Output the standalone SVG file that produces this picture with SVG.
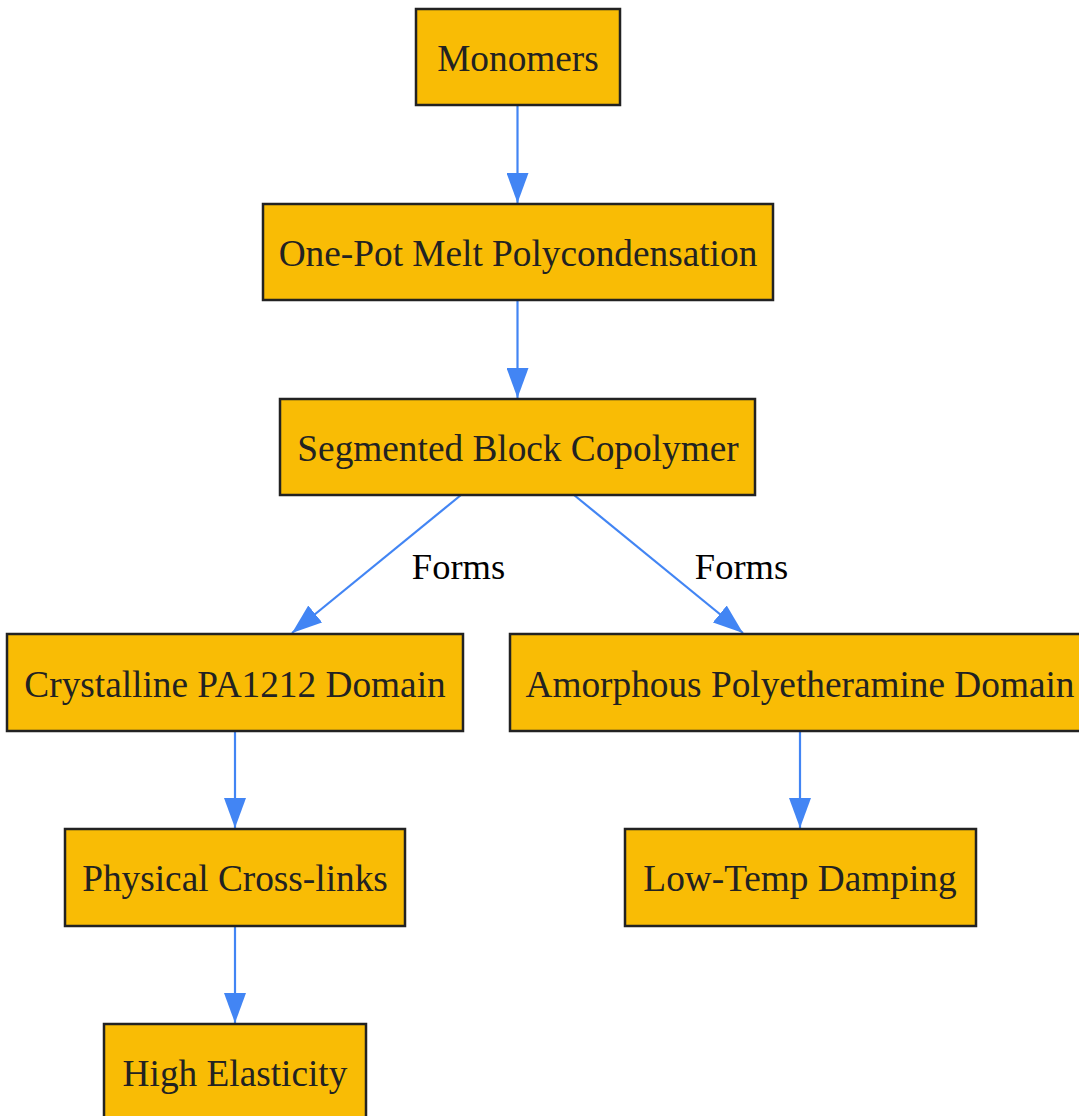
<svg xmlns="http://www.w3.org/2000/svg" width="1079" height="1116" viewBox="0 0 1079 1116">
<style>
.node rect{fill:#F9BC05;stroke:#222;stroke-width:2.5}
.node text{font-family:"Liberation Serif","Times New Roman",serif;font-size:37.3px;fill:#222;text-anchor:middle}
.edge{stroke:#4285F4;stroke-width:2.2;fill:none}
.lbl{font-family:"Liberation Serif","Times New Roman",serif;font-size:36.5px;fill:#000;text-anchor:middle}
</style>
<defs>
<marker id="ah" markerWidth="30" markerHeight="22" refX="30" refY="11" orient="auto" markerUnits="userSpaceOnUse">
<path d="M0,0 L30,11 L0,22 Z" fill="#4285F4"/>
</marker>
</defs>
<rect width="1079" height="1116" fill="#fff"/>
<g id="connectors">
<line class="edge" x1="517.5" y1="105" x2="517.5" y2="203" marker-end="url(#ah)"/>
<line class="edge" x1="517.5" y1="300" x2="517.5" y2="398" marker-end="url(#ah)"/>
<line class="edge" x1="461" y1="495" x2="292" y2="633" marker-end="url(#ah)"/>
<line class="edge" x1="574" y1="495" x2="743" y2="633" marker-end="url(#ah)"/>
<line class="edge" x1="235" y1="731" x2="235" y2="828" marker-end="url(#ah)"/>
<line class="edge" x1="800" y1="731" x2="800" y2="828" marker-end="url(#ah)"/>
<line class="edge" x1="235" y1="926" x2="235" y2="1023" marker-end="url(#ah)"/>
<text class="lbl" x="458.5" y="579">Forms</text>
<text class="lbl" x="741.5" y="579">Forms</text>
</g>
<g id="monomers" class="node"><rect x="416" y="9" width="204" height="96"/><text x="518" y="71">Monomers</text></g>
<g id="polycondensation" class="node"><rect x="263" y="204" width="510" height="96"/><text x="518" y="266">One-Pot Melt Polycondensation</text></g>
<g id="copolymer" class="node"><rect x="280" y="399" width="475" height="96"/><text x="518" y="461">Segmented Block Copolymer</text></g>
<g id="crystalline" class="node"><rect x="7" y="634" width="456" height="97"/><text x="235" y="697">Crystalline PA1212 Domain</text></g>
<g id="amorphous" class="node"><rect x="510" y="634" width="575" height="97"/><text x="800" y="697">Amorphous Polyetheramine Domain</text></g>
<g id="crosslinks" class="node"><rect x="65" y="829" width="340" height="97"/><text x="235" y="891">Physical Cross-links</text></g>
<g id="damping" class="node"><rect x="625" y="829" width="351" height="97"/><text x="800" y="891">Low-Temp Damping</text></g>
<g id="elasticity" class="node"><rect x="104" y="1024" width="262" height="97"/><text x="235" y="1086">High Elasticity</text></g>
</svg>
